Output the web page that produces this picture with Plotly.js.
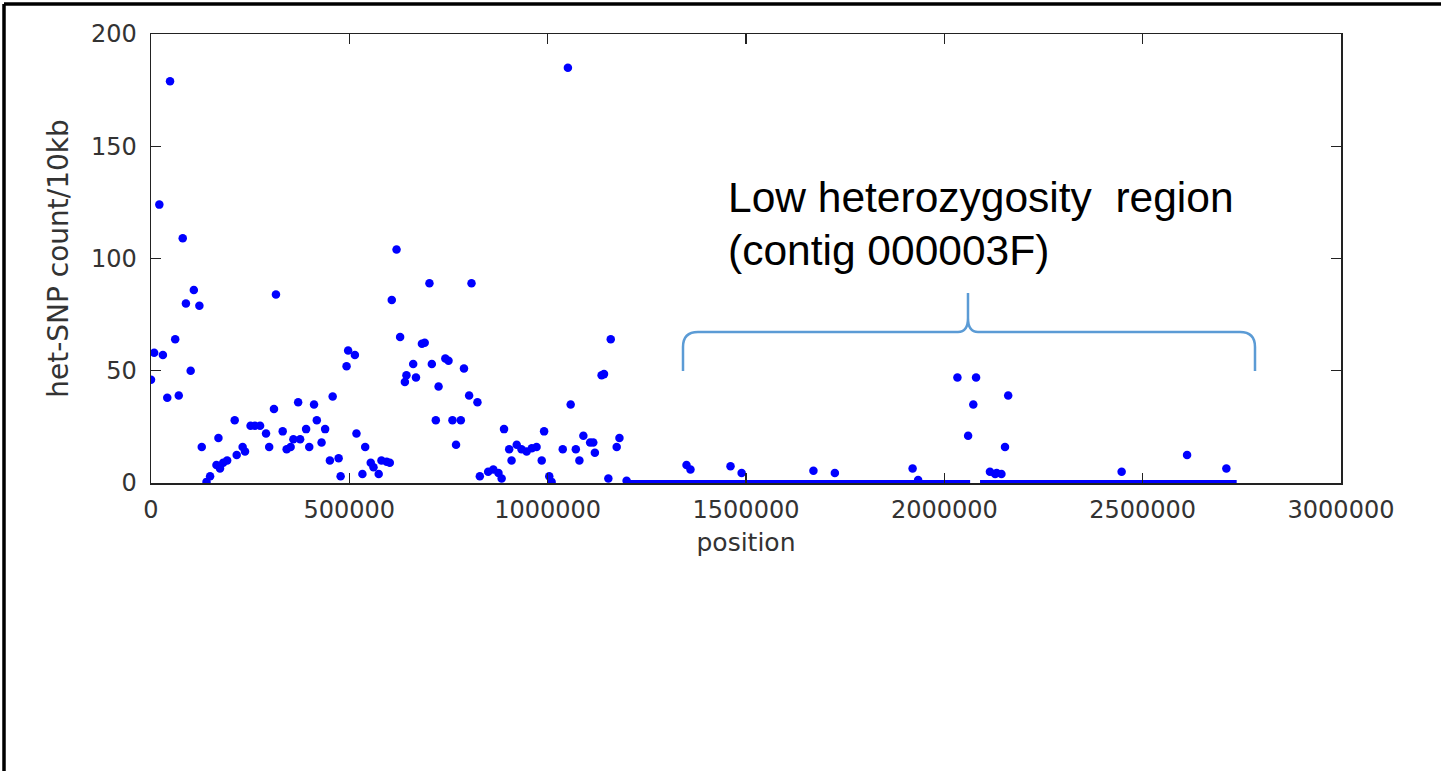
<!DOCTYPE html>
<html>
<head>
<meta charset="utf-8">
<script src="https://cdn.plot.ly/plotly-3.0.1.min.js"></script>
<style>html,body{margin:0;padding:0;background:#fff;}#chart{width:1443px;height:771px;}</style>
</head>
<body>
<div id="chart"></div>
<script>
// het-SNP counts per 10kb window (position, count)
const positions = [0, 8000, 21000, 30000, 41000, 48000, 61000, 70000, 80000, 88000,
  100000, 108000, 122000, 128000, 140000, 149000, 165000, 170000, 174000, 182000,
  192000, 211000, 216000, 231000, 237000, 251000, 262000, 275000, 290000, 298000,
  310000, 315000, 332000, 342000, 352000, 359000, 371000, 376000, 391000, 399000,
  411000, 418000, 430000, 439000, 451000, 458000, 473000, 478000, 493000, 497000,
  514000, 518000, 533000, 540000, 554000, 561000, 574000, 581000, 594000, 602000,
  607000, 619000, 628000, 640000, 644000, 661000, 668000, 683000, 690000, 702000,
  708000, 718000, 725000, 742000, 750000, 760000, 769000, 781000, 789000, 802000,
  808000, 823000, 829000, 850000, 863000, 876000, 884000, 890000, 903000, 909000,
  922000, 934000, 947000, 960000, 972000, 985000, 991000, 1004000, 1010000, 1038000,
  1051000, 1058000, 1071000, 1080000, 1090000, 1107000, 1115000, 1119000, 1136000, 1142000,
  1153000, 1159000, 1174000, 1181000, 1199000, 1350000, 1360000, 1461000, 1489000, 1670000,
  1724000, 1920000, 1934000, 2033000, 2060000, 2073000, 2080000, 2115000, 2128000, 2132000,
  2144000, 2153000, 2161000, 2447000, 2612000, 2711000];
const counts = [46, 58, 124, 57, 38, 179, 64, 39, 109, 80,
  50, 86, 79, 16, 0.5, 3, 8, 20, 6.5, 9,
  10, 28, 12.5, 16, 14, 25.5, 25.5, 25.5, 22, 16,
  33, 84, 23, 15, 16, 19.5, 36, 19.5, 24, 16,
  35, 28, 18, 24, 10, 38.5, 11, 3, 52, 59,
  57, 22, 4, 16, 9, 7, 4, 10, 9.5, 9,
  81.5, 104, 65, 45, 48, 53, 47, 62, 62.5, 89,
  53, 28, 43, 55.5, 54.5, 28, 17, 28, 51, 39,
  89, 36, 3, 5, 6, 4.5, 2, 24, 15, 10,
  17, 15, 14, 15.5, 16, 10, 23, 3, 0.5, 15,
  185, 35, 15, 10, 21, 18, 18, 13.5, 48, 48.5,
  2, 64, 16, 20, 1, 8, 6, 7.5, 4.5, 5.5,
  4.5, 6.5, 1.3, 47, 21, 35, 47, 5, 4, 4.5,
  4, 16, 39, 5, 12.5, 6.5];
// runs of consecutive zero-count windows (start, end)
const zeroRunPos = [1195000, 2065000, null, 2090000, 2737000];
const zeroRunVal = [0, 0, null, 0, 0];

const xTickVals = [0, 500000, 1000000, 1500000, 2000000, 2500000, 3000000];
const yTickVals = [0, 50, 100, 150, 200];
const xLabel = 'position';
const yLabel = 'het-SNP count/10kb';
const noteLine1 = 'Low heterozygosity  region';
const noteLine2 = '(contig 000003F)';

const W = 1443, H = 771, L = 151, R = 102, T = 34, B = 288;
const pw = W - L - R, ph = H - T - B;
const px = x => (x - L) / pw;
const py = y => (H - B - y) / ph;
function P(x, y) { return px(x).toFixed(5) + ',' + py(y).toFixed(5); }

const brace = 'M' + P(683, 371) + ' L' + P(683, 347) + ' Q' + P(683, 332) + ' ' + P(698, 332) +
  ' L' + P(958, 332) + ' Q' + P(968, 332) + ' ' + P(968, 318) + ' L' + P(968, 293) +
  ' M' + P(968, 318) + ' Q' + P(968, 332) + ' ' + P(978, 332) +
  ' L' + P(1240, 332) + ' Q' + P(1255, 332) + ' ' + P(1255, 347) + ' L' + P(1255, 371);

const tickFont = {family: 'DejaVu Sans', size: 24, color: '#333'};

const data = [
  {x: zeroRunPos, y: zeroRunVal, type: 'scatter', mode: 'lines',
   line: {color: '#0000ff', width: 6}, hoverinfo: 'skip', showlegend: false},
  {x: positions, y: counts, type: 'scatter', mode: 'markers',
   marker: {color: '#0000ff', size: 8.5, line: {width: 0}}, showlegend: false}
];

const layout = {
  width: W, height: H,
  margin: {l: L, r: R, t: T, b: B},
  paper_bgcolor: '#fff', plot_bgcolor: '#fff',
  showlegend: false,
  xaxis: {
    range: [0, 3000000], tickvals: xTickVals, tickformat: 'd',
    ticks: 'inside', ticklen: 10, tickwidth: 1.2, tickcolor: '#222',
    showline: true, linecolor: '#222', linewidth: 1.5, mirror: 'ticks',
    showgrid: false, zeroline: false, tickfont: tickFont, ticklabelstandoff: 5,
    title: {text: xLabel, font: {family: 'DejaVu Sans', size: 25, color: '#333'}, standoff: 10}
  },
  yaxis: {
    range: [0, 200], tickvals: yTickVals,
    ticks: 'inside', ticklen: 10, tickwidth: 1.2, tickcolor: '#222',
    showline: true, linecolor: '#222', linewidth: 1.5, mirror: 'ticks',
    showgrid: false, zeroline: false, tickfont: tickFont, ticklabelstandoff: 8,
    title: {text: yLabel, font: {family: 'DejaVu Sans', size: 28, color: '#333'}, standoff: 14}
  },
  shapes: [
    {type: 'path', xref: 'paper', yref: 'paper', path: brace,
     line: {color: '#5b9bd5', width: 2.5}},
    {type: 'line', xref: 'paper', yref: 'paper', x0: px(4), x1: px(1441), y0: py(4), y1: py(4),
     line: {color: '#000', width: 3.5}},
    {type: 'line', xref: 'paper', yref: 'paper', x0: px(4), x1: px(4), y0: py(4), y1: py(771),
     line: {color: '#000', width: 3.5}}
  ],
  annotations: [
    {text: noteLine1, xref: 'paper', yref: 'paper', x: px(726), y: py(198),
     xanchor: 'left', yanchor: 'middle', showarrow: false,
     font: {family: 'Liberation Sans', size: 42.5, color: '#000'}},
    {text: noteLine2, xref: 'paper', yref: 'paper', x: px(726), y: py(250),
     xanchor: 'left', yanchor: 'middle', showarrow: false,
     font: {family: 'Liberation Sans', size: 42.5, color: '#000'}}
  ]
};

Plotly.newPlot('chart', data, layout, {displayModeBar: false, staticPlot: true});
</script>
</body>
</html>
